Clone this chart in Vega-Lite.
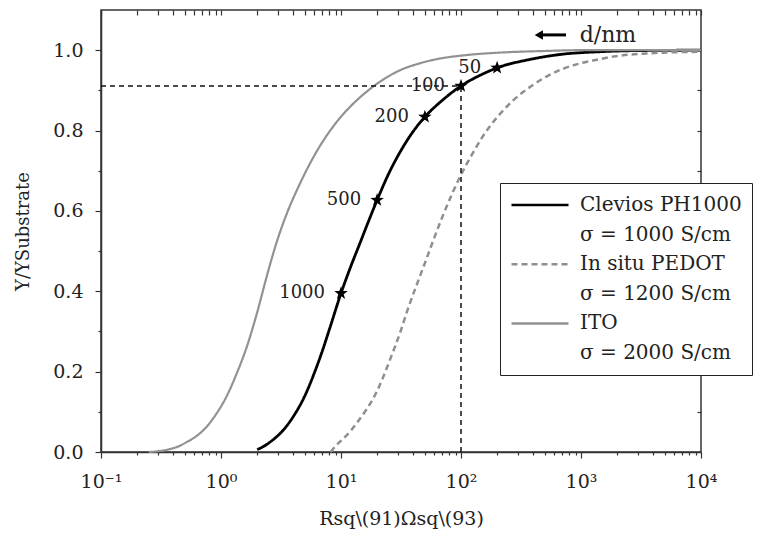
{
  "$schema": "https://vega.github.io/schema/vega-lite/v6.json",
  "width": 600,
  "height": 442,
  "autosize": {"type": "none"},
  "padding": {"left": 101, "top": 10, "right": 65, "bottom": 88},
  "background": "white",
  "config": {
    "view": {"stroke": "#333333", "strokeWidth": 1.5},
    "font": "DejaVu Serif",
    "axis": {
      "labelFont": "DejaVu Serif",
      "titleFont": "DejaVu Serif",
      "labelColor": "#222222",
      "titleColor": "#222222",
      "titleFontWeight": "normal",
      "domainColor": "#333333",
      "domainWidth": 1.5,
      "tickColor": "#333333",
      "tickWidth": 1.2,
      "grid": false
    },
    "legend": {
      "labelFont": "DejaVu Serif",
      "labelFontSize": 20,
      "labelColor": "#222222"
    },
    "style": {"guide-label": {"font": "DejaVu Serif"}}
  },
  "datasets": {
    "curves": [
      {"series": "Clevios PH1000", "R": 2.0, "T": 0.006},
      {"series": "Clevios PH1000", "R": 2.3, "T": 0.015},
      {"series": "Clevios PH1000", "R": 2.7, "T": 0.03},
      {"series": "Clevios PH1000", "R": 3.2, "T": 0.05},
      {"series": "Clevios PH1000", "R": 4.0, "T": 0.088},
      {"series": "Clevios PH1000", "R": 5.0, "T": 0.14},
      {"series": "Clevios PH1000", "R": 6.0, "T": 0.197},
      {"series": "Clevios PH1000", "R": 7.0, "T": 0.252},
      {"series": "Clevios PH1000", "R": 8.0, "T": 0.305},
      {"series": "Clevios PH1000", "R": 10, "T": 0.395},
      {"series": "Clevios PH1000", "R": 12, "T": 0.46},
      {"series": "Clevios PH1000", "R": 14.4, "T": 0.52},
      {"series": "Clevios PH1000", "R": 17, "T": 0.575},
      {"series": "Clevios PH1000", "R": 20, "T": 0.627},
      {"series": "Clevios PH1000", "R": 25, "T": 0.693},
      {"series": "Clevios PH1000", "R": 31, "T": 0.746},
      {"series": "Clevios PH1000", "R": 40, "T": 0.798},
      {"series": "Clevios PH1000", "R": 50, "T": 0.834},
      {"series": "Clevios PH1000", "R": 71, "T": 0.877},
      {"series": "Clevios PH1000", "R": 100, "T": 0.911},
      {"series": "Clevios PH1000", "R": 150, "T": 0.94},
      {"series": "Clevios PH1000", "R": 200, "T": 0.956},
      {"series": "Clevios PH1000", "R": 376, "T": 0.977},
      {"series": "Clevios PH1000", "R": 700, "T": 0.99},
      {"series": "Clevios PH1000", "R": 1400, "T": 0.996},
      {"series": "Clevios PH1000", "R": 3000, "T": 0.999},
      {"series": "Clevios PH1000", "R": 10000, "T": 1.0},
      {"series": "In situ PEDOT", "R": 8.2, "T": 0.0},
      {"series": "In situ PEDOT", "R": 9, "T": 0.015},
      {"series": "In situ PEDOT", "R": 10, "T": 0.028},
      {"series": "In situ PEDOT", "R": 12, "T": 0.052},
      {"series": "In situ PEDOT", "R": 14, "T": 0.078},
      {"series": "In situ PEDOT", "R": 16.4, "T": 0.107},
      {"series": "In situ PEDOT", "R": 20, "T": 0.152},
      {"series": "In situ PEDOT", "R": 22.5, "T": 0.187},
      {"series": "In situ PEDOT", "R": 26, "T": 0.235},
      {"series": "In situ PEDOT", "R": 31, "T": 0.296},
      {"series": "In situ PEDOT", "R": 36, "T": 0.355},
      {"series": "In situ PEDOT", "R": 42.6, "T": 0.415},
      {"series": "In situ PEDOT", "R": 50, "T": 0.47},
      {"series": "In situ PEDOT", "R": 59, "T": 0.528},
      {"series": "In situ PEDOT", "R": 71, "T": 0.59},
      {"series": "In situ PEDOT", "R": 85, "T": 0.645},
      {"series": "In situ PEDOT", "R": 100, "T": 0.69},
      {"series": "In situ PEDOT", "R": 125, "T": 0.743},
      {"series": "In situ PEDOT", "R": 150, "T": 0.783},
      {"series": "In situ PEDOT", "R": 200, "T": 0.833},
      {"series": "In situ PEDOT", "R": 270, "T": 0.874},
      {"series": "In situ PEDOT", "R": 400, "T": 0.914},
      {"series": "In situ PEDOT", "R": 520, "T": 0.935},
      {"series": "In situ PEDOT", "R": 700, "T": 0.953},
      {"series": "In situ PEDOT", "R": 980, "T": 0.967},
      {"series": "In situ PEDOT", "R": 1400, "T": 0.977},
      {"series": "In situ PEDOT", "R": 1850, "T": 0.984},
      {"series": "In situ PEDOT", "R": 3550, "T": 0.992},
      {"series": "In situ PEDOT", "R": 10000, "T": 0.996},
      {"series": "ITO", "R": 0.25, "T": 0.0},
      {"series": "ITO", "R": 0.3, "T": 0.002},
      {"series": "ITO", "R": 0.36, "T": 0.006},
      {"series": "ITO", "R": 0.45, "T": 0.015},
      {"series": "ITO", "R": 0.52, "T": 0.025},
      {"series": "ITO", "R": 0.64, "T": 0.042},
      {"series": "ITO", "R": 0.76, "T": 0.063},
      {"series": "ITO", "R": 0.9, "T": 0.092},
      {"series": "ITO", "R": 1.12, "T": 0.14},
      {"series": "ITO", "R": 1.35, "T": 0.195},
      {"series": "ITO", "R": 1.65, "T": 0.264},
      {"series": "ITO", "R": 2.0, "T": 0.347},
      {"series": "ITO", "R": 2.42, "T": 0.44},
      {"series": "ITO", "R": 2.93, "T": 0.525},
      {"series": "ITO", "R": 3.5, "T": 0.59},
      {"series": "ITO", "R": 4.55, "T": 0.668},
      {"series": "ITO", "R": 6.27, "T": 0.748},
      {"series": "ITO", "R": 8.6, "T": 0.81},
      {"series": "ITO", "R": 11.9, "T": 0.859},
      {"series": "ITO", "R": 16.4, "T": 0.897},
      {"series": "ITO", "R": 22.5, "T": 0.927},
      {"series": "ITO", "R": 31, "T": 0.95},
      {"series": "ITO", "R": 45, "T": 0.967},
      {"series": "ITO", "R": 59, "T": 0.976},
      {"series": "ITO", "R": 112, "T": 0.988},
      {"series": "ITO", "R": 211, "T": 0.994},
      {"series": "ITO", "R": 500, "T": 0.998},
      {"series": "ITO", "R": 1000, "T": 1.0},
      {"series": "ITO", "R": 10000, "T": 1.0}
    ],
    "guides": [
      {"R": 0.1, "R2": 100, "T": 0.911, "T2": 0.911},
      {"R": 100, "R2": 100, "T": 0, "T2": 0.911}
    ],
    "stars": [
      {"R": 10, "T": 0.395, "d": "1000"},
      {"R": 20, "T": 0.627, "d": "500"},
      {"R": 50, "T": 0.834, "d": "200"},
      {"R": 100, "T": 0.911, "d": "100"},
      {"R": 200, "T": 0.956, "d": "50"}
    ],
    "arrow": [
      {"R": 445, "R2": 750, "T": 1.038, "label": "d/nm", "RL": 975}
    ]
  },
  "layer": [
    {
      "data": {"name": "curves"},
      "mark": {"type": "line", "interpolate": "monotone"},
      "encoding": {
        "x": {
          "field": "R", "type": "quantitative",
          "scale": {"type": "log", "domain": [0.1, 10000], "nice": false},
          "axis": {
            "orient": "bottom",
            "title": "Rsq\\(91)Ωsq\\(93)",
            "titleFontSize": 19,
            "titlePadding": 18,
            "labelFontSize": 19,
            "labelPadding": 14,
            "values": [0.1, 0.2, 0.3, 0.4, 0.5, 0.6, 0.7, 0.8, 0.9, 1, 2, 3, 4, 5, 6, 7, 8, 9, 10, 20, 30, 40, 50, 60, 70, 80, 90, 100, 200, 300, 400, 500, 600, 700, 800, 900, 1000, 2000, 3000, 4000, 5000, 6000, 7000, 8000, 9000, 10000],
            "labelExpr": "datum.value == 0.1 ? '10⁻¹' : datum.value == 1 ? '10⁰' : datum.value == 10 ? '10¹' : datum.value == 100 ? '10²' : datum.value == 1000 ? '10³' : datum.value == 10000 ? '10⁴' : ''",
            "tickSize": {"condition": {"test": "indexof([0.1, 1, 10, 100, 1000, 10000], datum.value) >= 0", "value": 6}, "value": 3},
            "labelFlush": false,
            "labelOverlap": false
          }
        },
        "y": {
          "field": "T", "type": "quantitative",
          "scale": {"domain": [0, 1.1], "nice": false},
          "axis": {
            "orient": "left",
            "title": "Y/YSubstrate",
            "titleFontSize": 18,
            "titlePadding": 20,
            "labelFontSize": 19,
            "labelPadding": 12,
            "values": [0, 0.1, 0.2, 0.3, 0.4, 0.5, 0.6, 0.7, 0.8, 0.9, 1.0],
            "labelExpr": "round(datum.value * 10) % 2 == 0 ? format(datum.value, '.1f') : ''",
            "tickSize": {"condition": {"test": "round(datum.value * 10) % 2 == 0", "value": 6}, "value": 3},
            "labelOverlap": false,
            "labelFlush": false
          }
        },
        "color": {
          "field": "series", "type": "nominal",
          "scale": {
            "domain": ["Clevios PH1000", "σ = 1000 S/cm", "In situ PEDOT", "σ = 1200 S/cm", "ITO", "σ = 2000 S/cm"],
            "range": ["#000000", "transparent", "#8f8f8f", "transparent", "#929292", "transparent"]
          },
          "legend": {
            "title": null,
            "orient": "none",
            "legendX": 399,
            "legendY": 173,
            "fillColor": "white",
            "strokeColor": "#222222",
            "padding": 10,
            "symbolType": "stroke",
            "symbolSize": 3249,
            "symbolStrokeWidth": 2.5,
            "clipHeight": 24,
            "rowPadding": 5.6,
            "labelOffset": 10,
            "labelLimit": 400,
            "labelFont": "DejaVu Serif",
            "labelFontSize": 20
          }
        },
        "strokeDash": {
          "field": "series", "type": "nominal",
          "scale": {
            "domain": ["Clevios PH1000", "σ = 1000 S/cm", "In situ PEDOT", "σ = 1200 S/cm", "ITO", "σ = 2000 S/cm"],
            "range": [[1, 0], [1, 0], [6, 4], [1, 0], [1, 0], [1, 0]]
          },
          "legend": {
            "title": null,
            "orient": "none",
            "legendX": 399,
            "legendY": 173,
            "fillColor": "white",
            "strokeColor": "#222222",
            "padding": 10,
            "symbolType": "stroke",
            "symbolSize": 3249,
            "symbolStrokeWidth": 2.5,
            "clipHeight": 24,
            "rowPadding": 5.6,
            "labelOffset": 10,
            "labelLimit": 400,
            "labelFont": "DejaVu Serif",
            "labelFontSize": 20
          }
        },
        "strokeWidth": {
          "field": "series", "type": "nominal",
          "scale": {"domain": ["Clevios PH1000", "In situ PEDOT", "ITO"], "range": [2.8, 2.2, 2.2]},
          "legend": null
        }
      }
    },
    {
      "data": {"name": "guides"},
      "mark": {"type": "rule", "color": "#111111", "strokeWidth": 1.5, "strokeDash": [5, 4]},
      "encoding": {
        "x": {"field": "R", "type": "quantitative", "scale": {"type": "log", "domain": [0.1, 10000], "nice": false}, "axis": null},
        "x2": {"field": "R2"},
        "y": {"field": "T", "type": "quantitative", "scale": {"domain": [0, 1.1], "nice": false}, "axis": null},
        "y2": {"field": "T2"}
      }
    },
    {
      "data": {"name": "stars"},
      "mark": {"type": "point", "shape": "M0,-1L0.235,-0.324L0.951,-0.309L0.38,0.124L0.588,0.809L0,0.4L-0.588,0.809L-0.38,0.124L-0.951,-0.309L-0.235,-0.324Z", "filled": true, "color": "#000000", "size": 200, "opacity": 1},
      "encoding": {
        "x": {
          "field": "R", "type": "quantitative",
          "scale": {"type": "log", "domain": [0.1, 10000], "nice": false},
          "axis": {
            "orient": "top",
            "title": null,
            "labels": false,
            "domain": false,
            "ticks": true,
            "offset": -5,
            "values": [0.1, 0.2, 0.3, 0.4, 0.5, 0.6, 0.7, 0.8, 0.9, 1, 2, 3, 4, 5, 6, 7, 8, 9, 10, 20, 30, 40, 50, 60, 70, 80, 90, 100, 200, 300, 400, 500, 600, 700, 800, 900, 1000, 2000, 3000, 4000, 5000, 6000, 7000, 8000, 9000, 10000],
            "tickSize": 5
          }
        },
        "y": {
          "field": "T", "type": "quantitative",
          "scale": {"domain": [0, 1.1], "nice": false},
          "axis": {
            "orient": "right",
            "title": null,
            "labels": false,
            "domain": false,
            "ticks": true,
            "offset": -4,
            "values": [0.1, 0.2, 0.3, 0.4, 0.5, 0.6, 0.7, 0.8, 0.9, 1.0],
            "tickSize": 4
          }
        }
      }
    },
    {
      "data": {"name": "stars"},
      "mark": {"type": "text", "align": "right", "baseline": "middle", "dx": -16, "font": "DejaVu Serif", "fontSize": 18, "color": "#222222"},
      "encoding": {
        "x": {"field": "R", "type": "quantitative", "scale": {"type": "log", "domain": [0.1, 10000], "nice": false}, "axis": null},
        "y": {"field": "T", "type": "quantitative", "scale": {"domain": [0, 1.1], "nice": false}, "axis": null},
        "text": {"field": "d"}
      }
    },
    {
      "data": {"name": "arrow"},
      "mark": {"type": "rule", "color": "#000000", "strokeWidth": 3},
      "encoding": {
        "x": {"field": "R", "type": "quantitative", "scale": {"type": "log", "domain": [0.1, 10000], "nice": false}, "axis": null},
        "x2": {"field": "R2"},
        "y": {"field": "T", "type": "quantitative", "scale": {"domain": [0, 1.1], "nice": false}, "axis": null}
      }
    },
    {
      "data": {"name": "arrow"},
      "mark": {"type": "point", "shape": "triangle-left", "filled": true, "color": "#000000", "size": 90, "opacity": 1},
      "encoding": {
        "x": {"field": "R", "type": "quantitative", "scale": {"type": "log", "domain": [0.1, 10000], "nice": false}, "axis": null},
        "y": {"field": "T", "type": "quantitative", "scale": {"domain": [0, 1.1], "nice": false}, "axis": null}
      }
    },
    {
      "data": {"name": "arrow"},
      "mark": {"type": "text", "align": "left", "baseline": "middle", "font": "DejaVu Serif", "fontSize": 22, "color": "#222222"},
      "encoding": {
        "x": {"field": "RL", "type": "quantitative", "scale": {"type": "log", "domain": [0.1, 10000], "nice": false}, "axis": null},
        "y": {"field": "T", "type": "quantitative", "scale": {"domain": [0, 1.1], "nice": false}, "axis": null},
        "text": {"field": "label"}
      }
    }
  ],
  "resolve": {"axis": {"x": "independent", "y": "independent"}}
}
